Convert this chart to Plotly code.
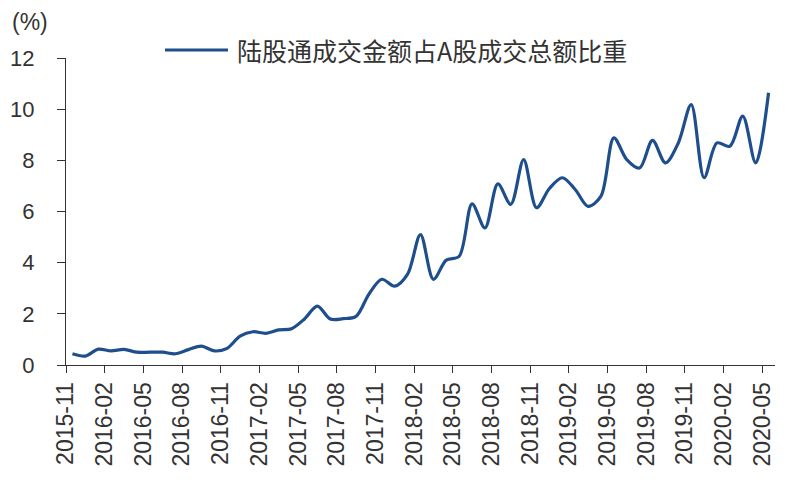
import plotly.graph_objects as go

months = [
    "2015-11","2015-12","2016-01","2016-02","2016-03","2016-04","2016-05","2016-06","2016-07","2016-08",
    "2016-09","2016-10","2016-11","2016-12","2017-01","2017-02","2017-03","2017-04","2017-05","2017-06",
    "2017-07","2017-08","2017-09","2017-10","2017-11","2017-12","2018-01","2018-02","2018-03","2018-04",
    "2018-05","2018-06","2018-07","2018-08","2018-09","2018-10","2018-11","2018-12","2019-01","2019-02",
    "2019-03","2019-04","2019-05","2019-06","2019-07","2019-08","2019-09","2019-10","2019-11","2019-12",
    "2020-01","2020-02","2020-03","2020-04","2020-05",
]
share = [
    0.44, 0.35, 0.62, 0.55, 0.61, 0.50, 0.50, 0.50, 0.44, 0.60,
    0.74, 0.55, 0.65, 1.13, 1.30, 1.24, 1.37, 1.42, 1.80, 2.30,
    1.80, 1.81, 1.90, 2.77, 3.35, 3.08, 3.55, 5.10, 3.35, 4.10,
    4.25, 6.30, 5.36, 7.08, 6.28, 8.03, 6.15, 6.90, 7.32, 6.86,
    6.20, 6.60, 8.88, 8.03, 7.70, 8.78, 7.90, 8.68, 10.18, 7.32,
    8.68, 8.55, 9.73, 7.90, 10.64,
]
series_name = "陆股通成交金额占A股成交总额比重"
tick_labels = months[::3]

line_color = "#1F4E8C"
font_latin = "Liberation Sans, Arial, sans-serif"
font_cjk = "Noto Sans CJK SC, sans-serif"

xpos = [i + 0.5 for i in range(len(months))]
tickpos = list(range(0, len(months), 3))

fig = go.Figure()
fig.add_trace(go.Scatter(
    x=xpos, y=share, mode="lines", name=series_name,
    line=dict(color=line_color, width=3.2, shape="spline", smoothing=0.9),
    customdata=months, hovertemplate="%{customdata}: %{y:.2f}%<extra></extra>",
    showlegend=False,
))

fig.update_layout(
    width=800, height=495,
    margin=dict(l=66, r=25, t=58, b=130),
    paper_bgcolor="white", plot_bgcolor="white",
    font=dict(family=font_latin, size=22, color="#333333"),
    xaxis=dict(
        range=[0, len(months)], tickmode="array", tickvals=tickpos, ticktext=tick_labels,
        tickangle=-90, ticks="outside", ticklen=7, tickcolor="#333333",
        showline=True, linecolor="#333333", linewidth=1, showgrid=False, zeroline=False,
        tickfont=dict(size=23, family=font_latin, color="#333333"),
        automargin=False,
    ),
    yaxis=dict(
        range=[0, 12], dtick=2, ticks="outside", ticklen=8, tickcolor="#333333",
        showline=True, linecolor="#333333", linewidth=1, showgrid=False, zeroline=False,
        tickfont=dict(size=22, family=font_latin, color="#333333"),
        ticklabelstandoff=18, automargin=False,
    ),
)

# legend drawn as a line sample plus label
fig.add_shape(type="line", xref="paper", yref="paper",
              x0=(165 - 66) / 709, x1=(228 - 66) / 709,
              y0=1 + (58 - 50) / 307, y1=1 + (58 - 50) / 307,
              line=dict(color=line_color, width=3))
fig.add_annotation(text=series_name, xref="paper", yref="paper",
                   x=(235 - 66) / 709, y=1 + (58 - 50) / 307,
                   xanchor="left", yanchor="middle", showarrow=False,
                   font=dict(family=font_cjk, size=25, color="#333333"))
fig.add_annotation(text="(%)", xref="paper", yref="paper",
                   x=(10 - 66) / 709, y=1 + (58 - 22) / 307,
                   xanchor="left", yanchor="middle", showarrow=False,
                   font=dict(family=font_latin, size=23, color="#333333"))

fig.write_html("out.html", config={"displayModeBar": False},
               post_script="document.body.style.margin='0';")
